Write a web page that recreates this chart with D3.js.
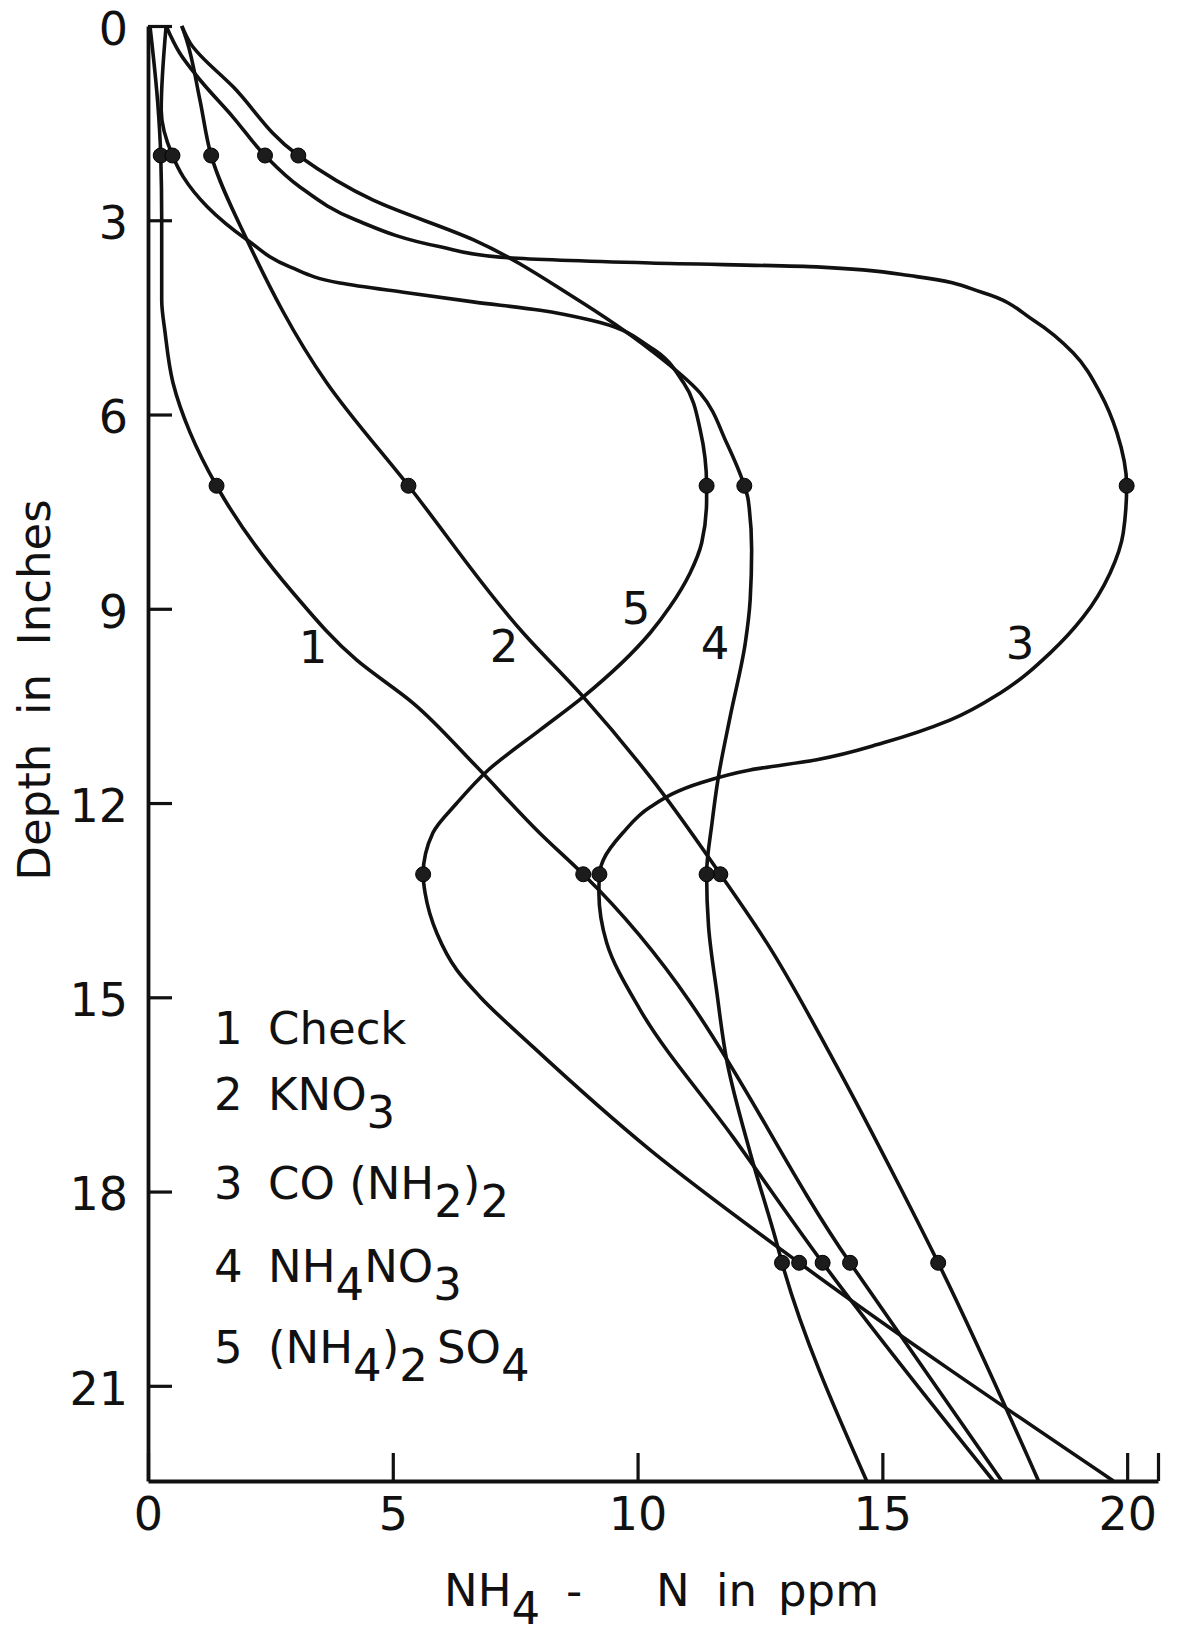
<!DOCTYPE html>
<html>
<head>
<meta charset="utf-8">
<script src="https://cdn.jsdelivr.net/npm/d3@7"></script>
<style>
    body { margin: 0; background: #fff; }
    svg text { font-family: "DejaVu Sans", sans-serif; fill: #111; }
</style>
</head>
<body>
<svg id="chart" width="1178" height="1639"></svg>
<script>
// depths (inches) of the sampled layers, where the dots sit
const depths = [2, 7.1, 13.1, 19.1];

// NH4-N (ppm) at each depth, one array per treatment
const check = [0.26, 1.40, 8.89, 14.34];
const kno3 = [1.29, 5.32, 11.69, 16.14];
const urea = [2.39, 19.99, 9.22, 13.78];
const nh4no3 = [3.07, 12.18, 11.41, 12.95];
const nh4so4 = [0.50, 11.41, 5.62, 13.30];

// points, [ppm, depth]
const checkTrace = [[0.04, 0], [0.2, 1.2], [0.28, 3.0], [0.28, 4.23], [0.35, 4.74], [0.51, 5.51], [0.86, 6.28],
    [1.57, 7.32], [2.97, 8.76], [4.26, 9.79], [5.42, 10.46], [6.65, 11.39], [8.01, 12.47],
    [17.44, 22.47]];
const kno3Trace = [[0.69, 0], [0.79, 0.22], [1.06, 1.14], [2.02, 3.3], [3.65, 5.51],
    [7.66, 9.37], [8.89, 10.36], [10.26, 11.6],
    [12.64, 14.16], [14.0, 15.97], [15.36, 17.93], [18.19, 22.47]];
const ureaTrace = [[0.37, 0], [0.65, 0.42], [1.06, 0.83], [1.74, 1.41],
    [3.11, 2.49], [4.26, 3.0], [5.97, 3.41], [7.19, 3.57], [10.26, 3.66], [13.66, 3.72], [15.7, 3.87],
    [17.06, 4.12], [18.08, 4.54], [18.9, 5.05], [19.45, 5.67], [19.79, 6.28],
    [19.92, 7.83], [19.65, 8.45], [19.1, 9.13], [18.43, 9.68], [17.41, 10.3], [16.38, 10.72],
    [15.02, 11.07], [13.66, 11.33], [12.3, 11.49], [11.28, 11.69], [10.26, 12.06], [9.7, 12.46], [9.3, 12.88],
    [9.21, 13.39], [9.37, 14.16], [10.05, 15.19], [11.95, 17.16],
    [17.27, 22.47]];
const nh4no3Trace = [[0.69, 0], [0.86, 0.26], [1.74, 0.94],
    [4.6, 2.69], [6.64, 3.3], [8.68, 4.18], [10.26, 5.0], [11.28, 5.67], [11.82, 6.44],
    [12.26, 7.32], [12.33, 8.09], [12.3, 8.86], [12.2, 9.53], [11.89, 10.67], [11.65, 11.6], [11.52, 12.31],
    [11.45, 13.91], [11.62, 14.93], [11.82, 15.97], [12.3, 17.4], [12.84, 18.79],
    [14.68, 22.47]];
const nh4so4Trace = [[0.37, 0], [0.27, 1.3],
    [0.72, 2.33], [1.21, 2.79], [2.02, 3.3], [2.9, 3.72], [3.92, 3.97], [5.29, 4.12], [6.64, 4.26],
    [8.01, 4.39], [9.03, 4.54], [10.26, 4.96], [10.94, 5.51], [11.28, 6.24],
    [11.41, 7.32], [11.31, 7.98], [11.07, 8.45], [10.66, 8.97], [10.26, 9.37], [8.89, 10.36],
    [8.01, 10.87], [6.95, 11.49], [6.31, 12.0], [5.82, 12.46],
    [5.66, 13.39], [5.90, 14.01], [6.31, 14.58], [6.78, 14.99], [7.87, 15.77],
    [10.26, 17.36], [19.72, 22.47]];

// curve number labels written on the plot
const curveLabels = [
    { text: "1", x: 313, y: 663 },
    { text: "2", x: 504, y: 662 },
    { text: "5", x: 636, y: 624 },
    { text: "4", x: 715, y: 659 },
    { text: "3", x: 1020, y: 659 }
];

// legend lines: [text, lowered?]
const legendLines = [
    { num: "1", parts: [["Check", false]] },
    { num: "2", parts: [["KNO", false], ["3", true]] },
    { num: "3", parts: [["CO (NH", false], ["2", true], [")", false], ["2", true]] },
    { num: "4", parts: [["NH", false], ["4", true], ["NO", false], ["3", true]] },
    { num: "5", parts: [["(NH", false], ["4", true], [")", false], ["2", true], ["\u2009SO", false], ["4", true]] }
];
const legendBaselines = [1044, 1110, 1199, 1282, 1363];

const xTicks = [0, 5, 10, 15, 20, 20.63];
const yTicks = [0, 3, 6, 9, 12, 15, 18, 21];

const series = [
    { dots: check, trace: checkTrace },
    { dots: kno3, trace: kno3Trace },
    { dots: urea, trace: ureaTrace },
    { dots: nh4no3, trace: nh4no3Trace },
    { dots: nh4so4, trace: nh4so4Trace }
];

const svg = d3.select("#chart");
const ink = "#111";

const x = d3.scaleLinear().domain([0, 20.63]).range([148, 1158]);
const y = d3.scaleLinear().domain([0, 22.47]).range([26, 1481]);

// axes: ticks point inward like the original drawing
const xAxis = svg.append("g")
    .attr("transform", "translate(0," + y(22.47) + ")")
    .call(d3.axisBottom(x).tickValues(xTicks).tickSize(-28).tickSizeOuter(0).tickPadding(16)
        .tickFormat(d => (d % 5 === 0 ? d : "")));
const yAxis = svg.append("g")
    .attr("transform", "translate(" + x(0) + ",0)")
    .call(d3.axisLeft(y).tickValues(yTicks).tickSize(-24).tickSizeOuter(0).tickPadding(20));
yAxis.selectAll(".tick text").attr("dy", "0.4em");

[xAxis, yAxis].forEach(g => {
    g.attr("font-size", 46).attr("font-family", "DejaVu Sans, sans-serif");
    g.select(".domain").attr("stroke", ink).attr("stroke-width", 3.8);
    g.selectAll(".tick line").attr("stroke", ink).attr("stroke-width", 3.2);
    g.selectAll(".tick text").attr("fill", ink);
});

// curves
const line = d3.line()
    .x(d => x(d[0]))
    .y(d => y(d[1]))
    .curve(d3.curveMonotoneY);

series.forEach(s => {
    const pts = s.trace.concat(s.dots.map((v, i) => [v, depths[i]]))
        .sort((a, b) => a[1] - b[1]);
    svg.append("path")
        .datum(pts)
        .attr("d", line)
        .attr("fill", "none")
        .attr("stroke", ink)
        .attr("stroke-width", 3.6)
        .attr("stroke-linejoin", "round");
});

// measured points
series.forEach(s => {
    svg.append("g").selectAll("circle")
        .data(s.dots)
        .enter().append("circle")
        .attr("cx", d => x(d))
        .attr("cy", (d, i) => y(depths[i]))
        .attr("r", 7.5)
        .attr("fill", "#1c1c1c")
        .attr("stroke", "#000")
        .attr("stroke-width", 1);
});

// numbers beside the curves
svg.append("g").selectAll("text")
    .data(curveLabels)
    .enter().append("text")
    .attr("x", d => d.x)
    .attr("y", d => d.y)
    .attr("text-anchor", "middle")
    .attr("font-size", 45)
    .text(d => d.text);

// legend
const legend = svg.append("g").attr("font-size", 45);
legendLines.forEach((item, i) => {
    const t = legend.append("text").attr("y", legendBaselines[i]);
    t.append("tspan").attr("x", 214).text(item.num);
    let lowered = false;
    item.parts.forEach((p, j) => {
        const span = t.append("tspan").text(p[0]);
        if (j === 0) span.attr("x", 268);
        if (p[1] !== lowered) span.attr("dy", p[1] ? 18 : -18);
        lowered = p[1];
    });
});

// axis titles
const xTitle = svg.append("text").attr("y", 1606).attr("font-size", 45);
xTitle.append("tspan").attr("x", 444).text("NH");
xTitle.append("tspan").attr("dy", 18).text("4");
xTitle.append("tspan").attr("x", 566).attr("dy", -18).text("-");
xTitle.append("tspan").attr("x", 656).text("N");
xTitle.append("tspan").attr("x", 716).text("in");
xTitle.append("tspan").attr("x", 778).text("ppm");

svg.append("text")
    .attr("transform", "translate(50,690) rotate(-90)")
    .attr("text-anchor", "middle")
    .attr("font-size", 45)
    .attr("xml:space", "preserve")
    .text("Depth  in  Inches");
</script>
</body>
</html>
